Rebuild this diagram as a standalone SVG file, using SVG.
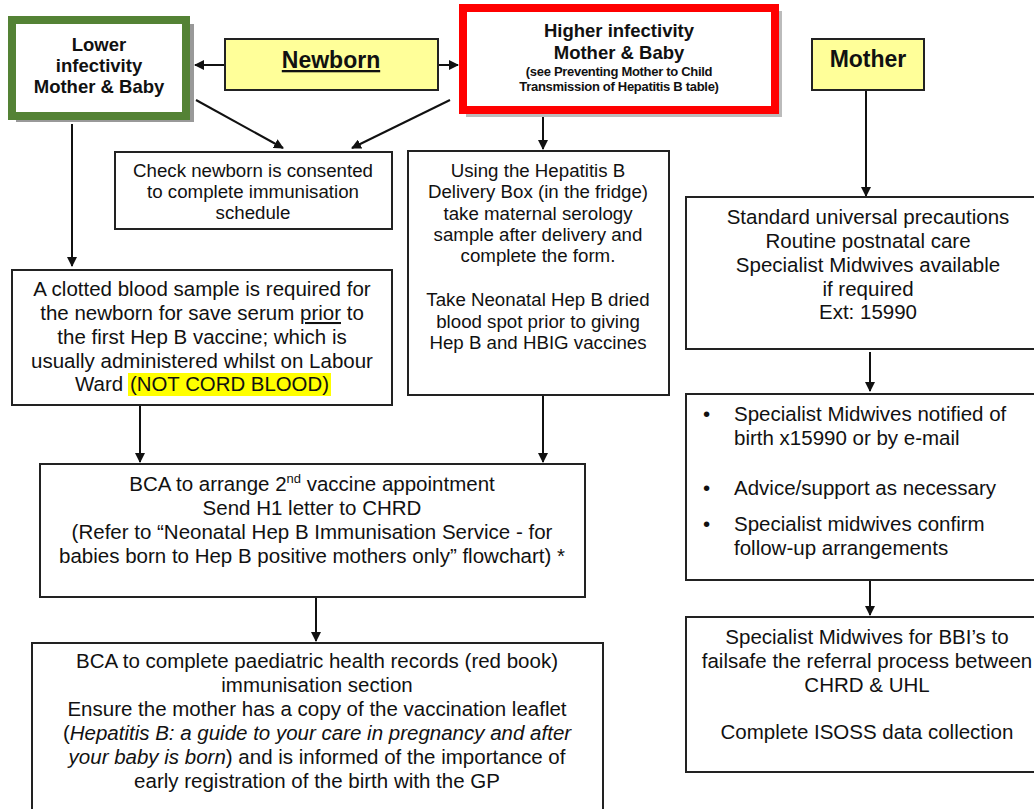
<svg xmlns="http://www.w3.org/2000/svg" width="1034" height="809" viewBox="0 0 1034 809">
<style>
.box{fill:#fff;stroke:#222;stroke-width:2}
.t{font-family:"Liberation Sans",Arial,sans-serif;fill:#111;text-anchor:middle}
.b{font-weight:bold}
.c{stroke:#111;stroke-width:2;fill:none}
.m{font-size:20.5px}
.s{font-size:18.7px}
</style>
<defs>
<marker id="ah" viewBox="0 0 10 10" refX="9" refY="5" markerWidth="5" markerHeight="5" orient="auto-start-reverse" markerUnits="strokeWidth">
<path d="M0,0 L10,5 L0,10 z" fill="#111"/>
</marker>
</defs>
<rect width="1034" height="809" fill="#fff"/>

<g id="connectors">
<line class="c" x1="225" y1="65" x2="195" y2="65" marker-end="url(#ah)"/>
<line class="c" x1="437" y1="65" x2="458" y2="65" marker-end="url(#ah)"/>
<line class="c" x1="196" y1="100" x2="283" y2="148" marker-end="url(#ah)"/>
<line class="c" x1="450" y1="100" x2="352" y2="148" marker-end="url(#ah)"/>
<line class="c" x1="72" y1="124" x2="72" y2="266" marker-end="url(#ah)"/>
<line class="c" x1="543" y1="116" x2="543" y2="149" marker-end="url(#ah)"/>
<line class="c" x1="866" y1="90" x2="866" y2="196" marker-end="url(#ah)"/>
<line class="c" x1="870" y1="352" x2="870" y2="391" marker-end="url(#ah)"/>
<line class="c" x1="870" y1="581" x2="870" y2="615" marker-end="url(#ah)"/>
<line class="c" x1="140" y1="405" x2="140" y2="462" marker-end="url(#ah)"/>
<line class="c" x1="543" y1="395" x2="543" y2="462" marker-end="url(#ah)"/>
<line class="c" x1="316" y1="598" x2="316" y2="641" marker-end="url(#ah)"/>
</g>

<g id="lower">
<rect x="16" y="24" width="178" height="98" fill="#999"/>
<rect x="12" y="20" width="174" height="96" fill="#fff" stroke="#548235" stroke-width="8"/>
<text class="t b" font-size="18.5" x="99" y="51">Lower</text>
<text class="t b" font-size="18.5" x="99" y="72">infectivity</text>
<text class="t b" font-size="18.5" x="99" y="93">Mother &amp; Baby</text>
</g>

<g id="newborn">
<rect x="225" y="39" width="213" height="51" fill="#ffff99" stroke="#222" stroke-width="2"/>
<text class="t b" font-size="23" x="331" y="68" text-decoration="underline">Newborn</text>
</g>

<g id="higher">
<rect x="466" y="11" width="316" height="106" fill="#bbb"/>
<rect x="463" y="8" width="312" height="102" fill="#fff" stroke="#ff0000" stroke-width="8"/>
<text class="t b" font-size="18.5" x="619" y="37">Higher infectivity</text>
<text class="t b" font-size="18.5" x="619" y="59">Mother &amp; Baby</text>
<text class="t b" font-size="13" x="619" y="76" letter-spacing="-0.3">(see Preventing Mother to Child</text>
<text class="t b" font-size="13" x="619" y="91" letter-spacing="-0.3">Transmission of Hepatitis B table)</text>
</g>

<g id="mother">
<rect x="812" y="39" width="112" height="51" fill="#ffff99" stroke="#222" stroke-width="2"/>
<text class="t b" font-size="23" x="868" y="67">Mother</text>
</g>

<g id="check">
<rect class="box" x="115" y="152" width="277" height="77"/>
<text class="t s" x="253" y="177">Check newborn is consented</text>
<text class="t s" x="253" y="198">to complete immunisation</text>
<text class="t s" x="253" y="219">schedule</text>
</g>

<g id="delivery">
<rect class="box" x="408" y="151" width="261" height="244"/>
<text class="t s" x="538" y="177">Using the Hepatitis B</text>
<text class="t s" x="538" y="198">Delivery Box (in the fridge)</text>
<text class="t s" x="538" y="220">take maternal serology</text>
<text class="t s" x="538" y="241">sample after delivery and</text>
<text class="t s" x="538" y="262">complete the form.</text>
<text class="t s" x="538" y="306">Take Neonatal Hep B dried</text>
<text class="t s" x="538" y="328">blood spot prior to giving</text>
<text class="t s" x="538" y="349">Hep B and HBIG vaccines</text>
</g>

<g id="clotted">
<rect class="box" x="12" y="270" width="380" height="135"/>
<rect x="128" y="373" width="203" height="23" fill="#ffff00"/>
<text class="t m" x="202" y="296">A clotted blood sample is required for</text>
<text class="t m" x="202" y="320">the newborn for save serum <tspan text-decoration="underline">prior</tspan> to</text>
<text class="t m" x="202" y="344">the first Hep B vaccine; which is</text>
<text class="t m" x="202" y="368">usually administered whilst on Labour</text>
<text class="t m" x="75" y="391" style="text-anchor:start">Ward</text>
<text class="t m" x="130" y="391" style="text-anchor:start" textLength="199" lengthAdjust="spacingAndGlyphs">(NOT CORD BLOOD)</text>
</g>

<g id="standard">
<rect class="box" x="686" y="197" width="360" height="152"/>
<text class="t m" x="868" y="224">Standard universal precautions</text>
<text class="t m" x="868" y="248">Routine postnatal care</text>
<text class="t m" x="868" y="272">Specialist Midwives available</text>
<text class="t m" x="868" y="296">if required</text>
<text class="t m" x="868" y="319">Ext: 15990</text>
</g>

<g id="notified">
<rect class="box" x="686" y="394" width="360" height="186"/>
<text class="t m" x="703" y="421" style="text-anchor:start">•</text>
<text class="t m" x="734" y="421" style="text-anchor:start">Specialist Midwives notified of</text>
<text class="t m" x="734" y="445" style="text-anchor:start">birth x15990 or by e-mail</text>
<text class="t m" x="703" y="495" style="text-anchor:start">•</text>
<text class="t m" x="734" y="495" style="text-anchor:start">Advice/support as necessary</text>
<text class="t m" x="703" y="531" style="text-anchor:start">•</text>
<text class="t m" x="734" y="531" style="text-anchor:start">Specialist midwives confirm</text>
<text class="t m" x="734" y="555" style="text-anchor:start">follow-up arrangements</text>
</g>

<g id="failsafe">
<rect class="box" x="686" y="617" width="360" height="155"/>
<text class="t m" x="867" y="644">Specialist Midwives for BBI’s to</text>
<text class="t m" x="867" y="668">failsafe the referral process between</text>
<text class="t m" x="867" y="692">CHRD &amp; UHL</text>
<text class="t m" x="867" y="739">Complete ISOSS data collection</text>
</g>

<g id="bca">
<rect class="box" x="40" y="464" width="545" height="133"/>
<text class="t m" x="312" y="491">BCA to arrange 2<tspan font-size="13" dy="-8">nd</tspan><tspan dy="8"> vaccine appointment</tspan></text>
<text class="t m" x="312" y="515">Send H1 letter to CHRD</text>
<text class="t m" x="312" y="539">(Refer to “Neonatal Hep B Immunisation Service - for</text>
<text class="t m" x="312" y="563">babies born to Hep B positive mothers only” flowchart) *</text>
</g>

<g id="records">
<rect class="box" x="32" y="643" width="571" height="175"/>
<text class="t m" x="317" y="668">BCA to complete paediatric health records (red book)</text>
<text class="t m" x="317" y="692">immunisation section</text>
<text class="t m" x="317" y="716">Ensure the mother has a copy of the vaccination leaflet</text>
<text class="t m" x="317" y="740">(<tspan font-style="italic">Hepatitis B: a guide to your care in pregnancy and after</tspan></text>
<text class="t m" x="317" y="764"><tspan font-style="italic">your baby is born</tspan>) and is informed of the importance of</text>
<text class="t m" x="317" y="788">early registration of the birth with the GP</text>
</g>
</svg>
